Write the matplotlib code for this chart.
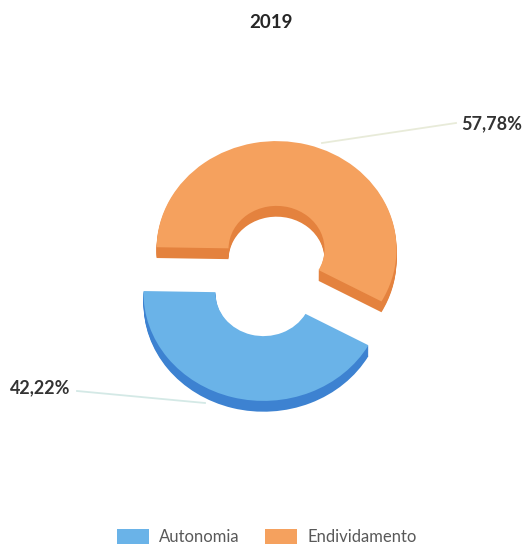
import matplotlib
matplotlib.use("Agg")
import matplotlib.pyplot as plt
from matplotlib.lines import Line2D

# data
categories = ["Autonomia", "Endividamento"]
shares = [42.22, 57.78]
value_labels = ["42,22%", "57,78%"]
title = "2019"

top_colors = ["#6AB3E8", "#F5A15E"]
side_colors = ["#3D82D1", "#E4823E"]

plt.rcParams["font.family"] = ["Lato", "DejaVu Sans"]

W, H = 525, 544
fig = plt.figure(figsize=(W / 100, H / 100), dpi=100)
ax = fig.add_axes([0, 0, 1, 1])

explode = [0.21, 0.21]
ring = dict(width=0.6, linewidth=0)
start = -29
depth = 0.1
steps = 10

# side walls: stacked copies shifted downwards
for i in range(steps, 0, -1):
    ax.pie(shares, colors=side_colors, startangle=start, counterclock=False,
           explode=explode, radius=1, center=(0, -depth * i / steps),
           wedgeprops=ring)

# top face
wedges, _ = ax.pie(shares, colors=top_colors, startangle=start, counterclock=False,
                   explode=explode, radius=1, center=(0, 0), wedgeprops=ring)

# flatten the donut a little (tilted view)
ax.set_aspect("auto")
cx, cy = 270, 271              # centre in pixels (from top)
sx, sy = 120, 108              # pixels per unit
ax.set_xlim(-cx / sx, (W - cx) / sx)
ax.set_ylim(-(H - cy) / sy, cy / sy)
ax.axis("off")

def fx(px):
    return px / W

def fy(py):
    return 1 - py / H

# leader lines
fig.add_artist(Line2D([fx(322), fx(456)], [fy(143), fy(123)],
                      transform=fig.transFigure, color="#E8EBD9", lw=1.3))
fig.add_artist(Line2D([fx(77), fx(205)], [fy(391), fy(403)],
                      transform=fig.transFigure, color="#D4E9E6", lw=1.3))

fig.text(fx(522), fy(124), value_labels[1], ha="right", va="center",
         fontsize=13, fontweight="bold", color="#333333")
fig.text(fx(10), fy(388), value_labels[0], ha="left", va="center",
         fontsize=13, fontweight="bold", color="#333333")

fig.text(fx(270.5), fy(22), title, ha="center", va="center",
         fontsize=13.5, fontweight="bold", color="#262626")

leg = fig.legend(wedges, categories, loc="center", bbox_to_anchor=(fx(266.5), fy(537)),
                 ncol=2, frameon=False, fontsize=12, handlelength=1.95,
                 handleheight=1.0, columnspacing=1.5, handletextpad=0.6,
                 borderpad=0, borderaxespad=0)
for t in leg.get_texts():
    t.set_color("#595959")

fig.savefig("out.png", dpi=100)
